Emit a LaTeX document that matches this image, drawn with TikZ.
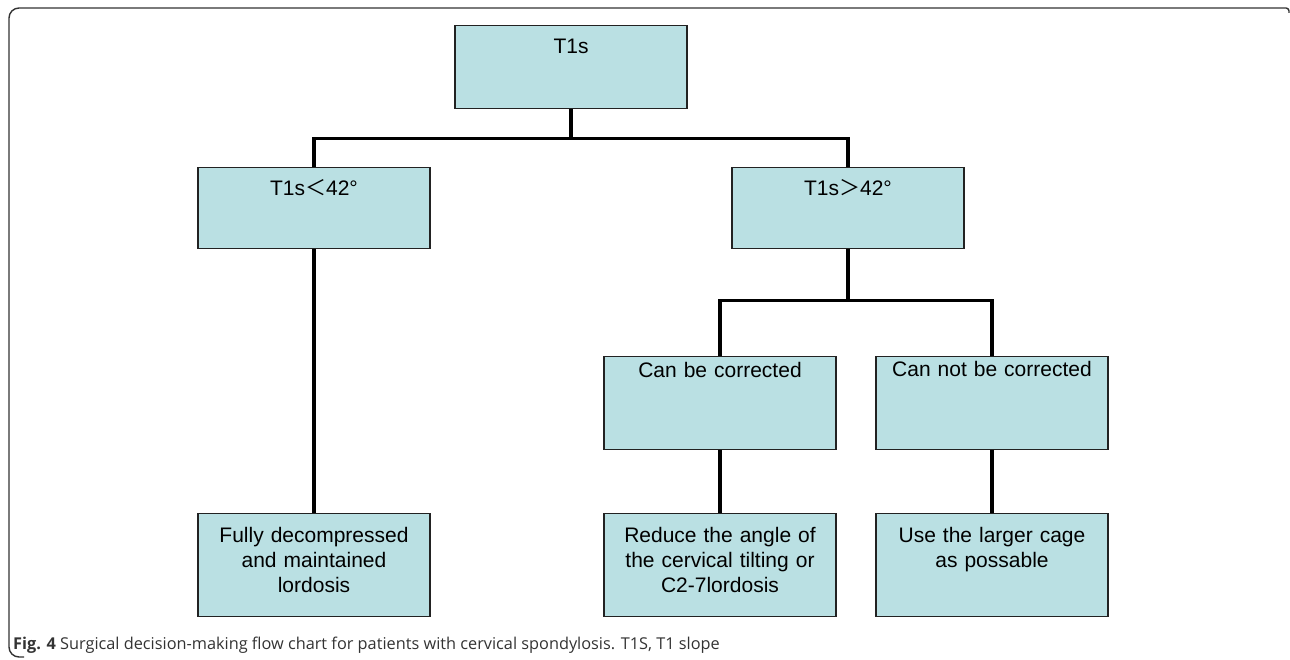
\documentclass[tikz,border=0pt]{standalone}
\usepackage{fontspec}
\setmainfont{Liberation Sans}
\newfontfamily\cjk{Noto Sans CJK SC}
\newfontfamily\capfont{Open Sans}
\definecolor{boxfill}{RGB}{186,224,227}
\definecolor{boxline}{RGB}{34,34,34}
\definecolor{captext}{RGB}{51,51,51}
\tikzset{
  box/.style={draw=boxline, fill=boxfill, line width=1.3pt, anchor=north,
    text width=232pt, inner xsep=0pt, inner ysep=0pt, align=center,
    font=\fontsize{21}{25}\selectfont, text height=28pt},
  link/.style={line width=3.4pt, black},
  frame/.style={line width=1.4pt, captext}
}
\begin{document}
\begin{tikzpicture}[x=1pt,y=-1pt]
\useasboundingbox (0,0) rectangle (1290,660);
\draw [frame] (1289,13) [rounded corners=3pt] -- (1289,8) [rounded corners=10pt] -- (9,8) -- (9,657) -- (24,657);

\node [box, text depth=55pt] (t1s) at (571,25) {T1s};

\node [box, text depth=53pt] (low) at (314,167) {T1s{\cjk ＜}42°};
\node [box, text depth=53pt] (high) at (848,167) {T1s{\cjk ＞}42°};

\node [box, text height=21pt, text depth=72pt] (canfix) at (720,356) {Can be corrected};
\node [box, text height=20pt, text depth=73pt] (nofix) at (992,356) {Can not be corrected};

\node [box, text height=29pt, text depth=74pt] (fullydec) at (314,513) {Fully decompressed\\and maintained\\lordosis};
\node [box, text height=29pt, text depth=74pt] (reduce) at (720,513) {Reduce the angle of\\the cervical tilting or\\C2-7lordosis};
\node [box, text height=29pt, text depth=74pt] (largecage) at (992,513) {Use the larger cage\\as possable};

\draw [link] (t1s.south) -- ++(0,29) coordinate (split1) -| (low.north);
\draw [link] (split1) -| (high.north);
\draw [link] (low) -- (fullydec);

\draw [link] (high.south) -- ++(0,51) coordinate (split2) -| (canfix.north);
\draw [link] (split2) -| (nofix.north);
\draw [link] (canfix) -- (reduce);
\draw [link] (nofix) -- (largecage);

\node [anchor=base west, inner sep=0pt, text=captext, font=\capfont\fontsize{16.3}{19}\selectfont] (caption) at (13,649)
  {\textbf{Fig. 4} Surgical decision-making flow chart for patients with cervical spondylosis. T1S, T1 slope};
\end{tikzpicture}
\end{document}
